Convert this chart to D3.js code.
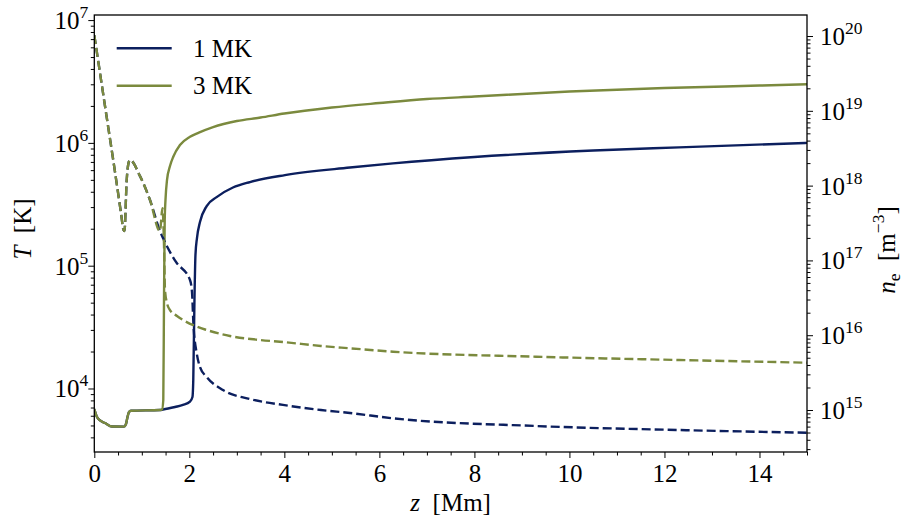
<!DOCTYPE html>
<html>
<head>
<meta charset="utf-8">
<script src="https://cdn.jsdelivr.net/npm/d3@7"></script>
<style>
  body { margin: 0; background: #fff; }
  svg text { font-family: "Liberation Serif", "Times New Roman", serif; fill: #000; }
</style>
</head>
<body>
<svg id="chart" width="903" height="519"></svg>
<script>
// series labels
var seriesNames = ["1 MK", "3 MK"];

// temperature, 1 MK case (z in Mm, T in K)
var zT1 = [0, 0.057, 0.12, 0.225, 0.372, 0.625, 0.667, 0.699, 0.73, 0.772, 1.383,
  1.445, 1.698, 1.866, 2.014, 2.066, 2.083, 2.108, 2.129, 2.161, 2.224, 2.365, 2.575,
  2.918, 3.276, 4.012, 5.38, 6.287, 8, 10.5, 12.306, 15];
var T1 = [6810, 5860, 5490, 5240, 4905, 4890, 5140, 5860, 6440, 6590, 6680,
  6740, 7070, 7340, 7810, 8530, 1.173e4, 5.25e4, 1.221e5, 1.68e5, 2.268e5, 3.06e5, 3.62e5,
  4.33e5, 4.8e5, 5.47e5, 6.3e5, 6.81e5, 7.67e5, 8.66e5, 9.19e5, 1.0e6];

// temperature, 3 MK case
var zT3 = [0, 0.057, 0.12, 0.225, 0.372, 0.625, 0.667, 0.699, 0.73, 0.772, 1.383,
  1.425, 1.452, 1.467, 1.482, 1.498, 1.53, 1.593, 1.662, 1.803, 2.014, 2.2, 2.5,
  3, 3.5, 4, 5, 6, 7, 8, 10, 12, 14, 15];
var T3 = [6810, 5860, 5490, 5240, 4905, 4890, 5140, 5860, 6440, 6590, 6680,
  6740, 8060, 5.25e4, 2.355e5, 3.42e5, 4.98e5, 6.48e5, 7.71e5, 9.6e5, 1.122e6, 1.213e6, 1.346e6,
  1.506e6, 1.608e6, 1.734e6, 1.94e6, 2.11e6, 2.275e6, 2.384e6, 2.618e6, 2.796e6, 2.93e6, 3.0e6];

// electron density, 1 MK case (m^-3)
var zN1 = [0, 0.225, 0.436, 0.562, 0.615, 0.635, 0.682, 0.72, 0.751, 0.962, 1.172, 1.382,
  1.446, 1.719, 2.014, 2.056, 2.087, 2.155, 2.224, 2.365, 2.708, 3.276, 3.971, 4.771,
  5.381, 6.287, 9.296, 12.306, 15];
var n1 = [1.03e20, 1.16e19, 1.52e18, 4.3e17, 2.55e17, 2.47e17, 1.19e18, 2.0e18, 2.2e18, 1.34e18, 6.42e17, 2.47e17,
  1.99e17, 9.53e16, 5.47e16, 3.78e16, 1.37e16, 5.78e15, 3.76e15, 2.76e15, 1.85e15, 1.4e15, 1.17e15, 1.0e15,
  9.12e14, 7.74e14, 6.11e14, 5.4e14, 4.97e14];

// electron density, 3 MK case
var zN3 = [0, 0.225, 0.436, 0.562, 0.615, 0.635, 0.682, 0.72, 0.751, 0.962, 1.172, 1.382,
  1.435, 1.467, 1.488, 1.53, 1.593, 1.74, 1.866, 2.119, 2.371, 2.855, 3.486, 3.971,
  4.771, 5.381, 6.287, 9.296, 12.306, 15];
var n3 = [1.03e20, 1.16e19, 1.52e18, 4.3e17, 2.55e17, 2.47e17, 1.19e18, 2.0e18, 2.2e18, 1.34e18, 6.42e17, 2.47e17,
  5.0e17, 1.61e17, 4.02e16, 2.69e16, 2.17e16, 1.81e16, 1.6e16, 1.33e16, 1.17e16, 9.76e15, 8.63e15, 8.11e15,
  7.18e15, 6.68e15, 6.02e15, 5.16e15, 4.66e15, 4.29e15];

// ticks
var xMajor = [0, 2, 4, 6, 8, 10, 12, 14];
var tDecades = [4, 5, 6, 7];
var nDecades = [15, 16, 17, 18, 19, 20];

var colors = ["#0c1f5e", "#7b8a3e"];
var fs = 25, fsSup = 17.5;

var svg = d3.select("#chart");
var mLeft = 94.3, mRight = 807, mTop = 15, mBottom = 452;

var x = d3.scaleLinear().domain([0, 15]).range([mLeft, mRight]);
var yT = d3.scaleLog().domain([3.04e3, 1.1e7]).range([mBottom, mTop]);
var yN = d3.scaleLog().domain([2.745e14, 1.91e20]).range([mBottom, mTop]);

function minorLog(scale, lo, hi) {
  var out = [];
  var d = scale.domain();
  for (var e = lo; e <= hi; e++) {
    for (var m = 2; m < 10; m++) {
      var v = m * Math.pow(10, e);
      if (v > d[0] && v < d[1]) out.push(v);
    }
  }
  return out;
}

var xMinor = d3.range(0, 15.001, 0.5).filter(function(d) { return xMajor.indexOf(d) == -1; });

function styleAxis(g) {
  g.attr("font-family", null).attr("font-size", null);
  g.select(".domain").remove();
  g.selectAll(".tick line").attr("stroke", "#000").attr("stroke-width", 1);
}

// bottom axis
svg.append("g").attr("transform", "translate(0," + mBottom + ")")
  .call(d3.axisBottom(x).tickValues(xMinor).tickSize(3.5).tickFormat(""))
  .call(styleAxis);
var xg = svg.append("g").attr("transform", "translate(0," + mBottom + ")")
  .call(d3.axisBottom(x).tickValues(xMajor).tickSize(6).tickFormat(d3.format("d")))
  .call(styleAxis);
xg.selectAll(".tick text").attr("font-size", fs).attr("y", 30).attr("dy", 0);

// left axis
svg.append("g").attr("transform", "translate(" + mLeft + ",0)")
  .call(d3.axisLeft(yT).tickValues(minorLog(yT, 3, 6)).tickSize(3.5).tickFormat(""))
  .call(styleAxis);
svg.append("g").attr("transform", "translate(" + mLeft + ",0)")
  .call(d3.axisLeft(yT).tickValues(tDecades.map(function(e) { return Math.pow(10, e); })).tickSize(6).tickFormat(""))
  .call(styleAxis);

// right axis
svg.append("g").attr("transform", "translate(" + mRight + ",0)")
  .call(d3.axisRight(yN).tickValues(minorLog(yN, 14, 20)).tickSize(3.5).tickFormat(""))
  .call(styleAxis);
svg.append("g").attr("transform", "translate(" + mRight + ",0)")
  .call(d3.axisRight(yN).tickValues(nDecades.map(function(e) { return Math.pow(10, e); })).tickSize(6).tickFormat(""))
  .call(styleAxis);

// power-of-ten labels
function powLabel(xp, yp, e, anchor) {
  var t = svg.append("text").attr("x", xp).attr("y", yp + 9).attr("font-size", fs)
    .attr("text-anchor", anchor);
  t.append("tspan").text("10");
  t.append("tspan").attr("dy", -11).attr("font-size", fsSup).text(e);
}
tDecades.forEach(function(e) { powLabel(mLeft - 6, yT(Math.pow(10, e)), e, "end"); });
nDecades.forEach(function(e) { powLabel(mRight + 13, yN(Math.pow(10, e)), e, "start"); });

// lines
svg.append("clipPath").attr("id", "clip").append("rect")
  .attr("x", mLeft).attr("y", mTop).attr("width", mRight - mLeft).attr("height", mBottom - mTop);

function drawLine(zs, vs, scale, color, dashed) {
  var pts = zs.map(function(z, i) { return [z, vs[i]]; });
  var line = d3.line().x(function(d) { return x(d[0]); }).y(function(d) { return scale(d[1]); })
    .curve(d3.curveMonotoneX);
  svg.append("path").datum(pts)
    .attr("clip-path", "url(#clip)")
    .attr("d", line)
    .attr("fill", "none")
    .attr("stroke", color)
    .attr("stroke-width", 2.4)
    .attr("stroke-dasharray", dashed ? "9,4" : null);
}

drawLine(zT1, T1, yT, colors[0], false);
drawLine(zT3, T3, yT, colors[1], false);
drawLine(zN1, n1, yN, colors[0], true);
drawLine(zN3, n3, yN, colors[1], true);

// frame
svg.append("rect").attr("x", mLeft).attr("y", mTop).attr("width", mRight - mLeft).attr("height", mBottom - mTop)
  .attr("fill", "none").attr("stroke", "#000").attr("stroke-width", 1.3);

// axis labels
svg.append("text").attr("x", (mLeft + mRight) / 2).attr("y", 511).attr("text-anchor", "middle")
  .attr("font-size", fs)
  .html('<tspan font-style="italic">z</tspan>\u2002[Mm]');

svg.append("text").attr("transform", "translate(31,229) rotate(-90)").attr("text-anchor", "middle")
  .attr("font-size", fs)
  .html('<tspan font-style="italic">T</tspan>\u2002[K]');

var rl = svg.append("text").attr("transform", "translate(895,250) rotate(-90)").attr("text-anchor", "middle")
  .attr("font-size", fs);
rl.append("tspan").attr("font-style", "italic").text("n");
rl.append("tspan").attr("font-size", fsSup).attr("dy", 5).text("e");
rl.append("tspan").attr("dy", -5).text("\u2002[m");
rl.append("tspan").attr("font-size", fsSup).attr("dy", -11).text("\u22123");
rl.append("tspan").attr("dy", 11).text("]");

// legend
seriesNames.forEach(function(name, i) {
  var yy = 48.3 + i * 37.4;
  svg.append("line").attr("x1", 116.7).attr("x2", 171.7).attr("y1", yy).attr("y2", yy)
    .attr("stroke", colors[i]).attr("stroke-width", 2.4);
  svg.append("text").attr("x", 193).attr("y", yy + 8.5).attr("font-size", fs).text(name);
});
</script>
</body>
</html>
